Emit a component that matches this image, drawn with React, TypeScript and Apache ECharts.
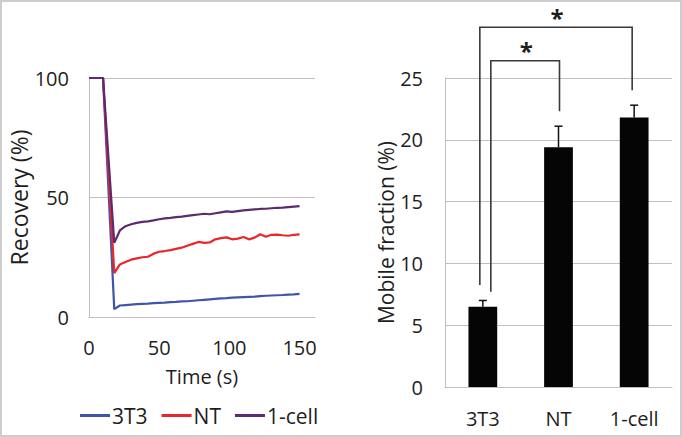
import React, { useEffect, useRef } from "react";
import * as echarts from "echarts";

// ---- Left chart: FRAP recovery curves ----
const times = [0, 5, 10, 18, 22, 26, 30, 34, 38, 42, 46, 50, 54, 58, 62, 66, 70, 74, 78, 82, 86, 90, 94, 98, 102, 106, 110, 114, 118, 122, 126, 130, 134, 138, 142, 146, 150];
const rec3T3 = [100, 100, 100, 3.3, 4.8, 5.0, 5.2, 5.4, 5.5, 5.6, 5.8, 5.9, 6.0, 6.2, 6.3, 6.5, 6.6, 6.8, 7.0, 7.2, 7.4, 7.6, 7.8, 7.9, 8.1, 8.2, 8.3, 8.4, 8.5, 8.7, 8.9, 9.0, 9.1, 9.2, 9.4, 9.5, 9.7];
const recNT = [100, 100, 100, 18.4, 22.0, 23.0, 24.0, 24.5, 25.0, 25.2, 26.5, 27.3, 27.6, 28.0, 28.5, 29.0, 29.8, 30.6, 31.4, 31.0, 31.2, 32.5, 33.0, 33.3, 32.5, 32.8, 33.5, 32.5, 33.2, 34.6, 33.6, 34.4, 34.5, 34.2, 34.0, 34.4, 34.6];
const rec1cell = [100, 100, 100, 31.0, 36.2, 38.0, 38.8, 39.4, 39.8, 40.0, 40.4, 40.9, 41.3, 41.5, 41.8, 42.0, 42.3, 42.6, 42.9, 43.2, 43.0, 43.4, 43.8, 44.2, 44.0, 44.3, 44.6, 44.8, 45.0, 45.2, 45.3, 45.5, 45.7, 45.8, 46.0, 46.2, 46.4];
const seriesNames = ["3T3", "NT", "1-cell"];

// ---- Right chart: mobile fraction ----
const groups = ["3T3", "NT", "1-cell"];
const mobileFraction = [6.5, 19.4, 21.8];
const mobileError = [0.5, 1.7, 1.0];
// significance brackets: [fromIndex, toIndex, leftBottomY, rightBottomY, topY]
const brackets = [
  [0, 2, 8.25, 24.0, 29.1],
  [0, 1, 7.7, 22.3, 26.4],
];
const bracketLabels = ["*", "*"];

// styling offsets (pixels) for bracket ends
const BRACKET_DX = [
  [-3, -2],
  [8, 1],
];

const FONT = "'Open Sans', 'Liberation Sans', sans-serif";
const TXT = "#1e1e1e";
const GRID = "#bfbfbf";
const COLORS = ["#3f55aa", "#e8262b", "#5c2a72"];
const FS = 20;

export default function App() {
  const ref = useRef<HTMLDivElement>(null);
  useEffect(() => {
    if (!ref.current) return;
    const chart = echarts.init(ref.current, undefined, { renderer: "svg" });
    const lineData = [rec3T3, recNT, rec1cell];
    const option: any = {
      animation: false,
      backgroundColor: "#ffffff",
      textStyle: { fontFamily: FONT, color: TXT },
      legend: {
        left: 80,
        top: 405,
        padding: 0,
        itemWidth: 30,
        itemHeight: 3,
        itemGap: 14,
        icon: "rect",
        data: seriesNames,
        textStyle: { fontFamily: FONT, fontSize: 21, color: TXT, padding: [0, 0, 0, -3] },
      },
      grid: [
        { left: 89, top: 78, width: 226, height: 239 },
        { left: 445, top: 78, width: 227, height: 309 },
      ],
      xAxis: [
        {
          gridIndex: 0,
          type: "value",
          min: 0,
          max: 161,
          interval: 50,
          name: "Time (s)",
          nameLocation: "middle",
          nameGap: 49,
          nameTextStyle: { fontFamily: FONT, fontSize: FS, color: TXT },
          axisLine: { show: true, lineStyle: { color: GRID, width: 1 } },
          axisTick: { show: false },
          splitLine: { show: false },
          axisLabel: { fontFamily: FONT, fontSize: FS, color: TXT, margin: 20, showMaxLabel: false },
        },
        {
          gridIndex: 1,
          type: "category",
          data: groups,
          axisLine: { show: true, lineStyle: { color: GRID, width: 1 } },
          axisTick: { show: false },
          axisLabel: { fontFamily: FONT, fontSize: FS, color: TXT, margin: 21 },
        },
      ],
      yAxis: [
        {
          gridIndex: 0,
          type: "value",
          min: 0,
          max: 100,
          interval: 50,
          name: "Recovery (%)",
          nameLocation: "middle",
          nameGap: 58,
          nameTextStyle: { fontFamily: FONT, fontSize: 23, color: TXT },
          axisLine: { show: true, lineStyle: { color: GRID, width: 1 } },
          axisTick: { show: false },
          splitLine: { show: true, lineStyle: { color: GRID, width: 1 } },
          axisLabel: { fontFamily: FONT, fontSize: FS, color: TXT, margin: 20 },
        },
        {
          gridIndex: 1,
          type: "value",
          min: 0,
          max: 25,
          interval: 5,
          name: "Mobile fraction (%)",
          nameLocation: "middle",
          nameGap: 48,
          nameTextStyle: { fontFamily: FONT, fontSize: 21, color: TXT },
          axisLine: { show: true, lineStyle: { color: GRID, width: 1 } },
          axisTick: { show: false },
          splitLine: { show: true, lineStyle: { color: GRID, width: 1 } },
          axisLabel: { fontFamily: FONT, fontSize: FS, color: TXT, margin: 22 },
        },
      ],
      series: [
        ...seriesNames.map((name, k) => ({
          name,
          type: "line",
          xAxisIndex: 0,
          yAxisIndex: 0,
          data: times.map((t, i) => [t, lineData[k][i]]),
          symbol: "none",
          color: COLORS[k],
          lineStyle: { width: 2.2, color: COLORS[k] },
          z: 2 + k,
        })),
        {
          name: "Mobile fraction",
          type: "bar",
          xAxisIndex: 1,
          yAxisIndex: 1,
          data: mobileFraction,
          barWidth: "38%",
          itemStyle: { color: "#050505" },
        },
        {
          name: "error",
          type: "custom",
          xAxisIndex: 1,
          yAxisIndex: 1,
          clip: false,
          z: 5,
          data: mobileFraction.map((v, i) => [i, v, mobileError[i]]),
          renderItem: (params: any, api: any) => {
            const i = api.value(0);
            const v = api.value(1);
            const e = api.value(2);
            const p0 = api.coord([i, v]);
            const p1 = api.coord([i, v + e]);
            return {
              type: "group",
              children: [
                { type: "line", shape: { x1: p0[0], y1: p0[1], x2: p1[0], y2: p1[1] }, style: { stroke: "#111", lineWidth: 1.5 } },
                { type: "line", shape: { x1: p1[0] - 4, y1: p1[1], x2: p1[0] + 4, y2: p1[1] }, style: { stroke: "#111", lineWidth: 1.5 } },
              ],
            };
          },
        },
        {
          name: "brackets",
          type: "custom",
          xAxisIndex: 1,
          yAxisIndex: 1,
          clip: false,
          z: 6,
          data: brackets,
          renderItem: (params: any, api: any) => {
            const idx = params.dataIndex;
            const a = api.value(0);
            const b = api.value(1);
            const pl = api.coord([a, api.value(2)]);
            const pr = api.coord([b, api.value(3)]);
            const pt = api.coord([a, api.value(4)]);
            const xl = pl[0] + BRACKET_DX[idx][0];
            const xr = pr[0] + BRACKET_DX[idx][1];
            const yt = pt[1];
            return {
              type: "group",
              children: [
                {
                  type: "polyline",
                  shape: { points: [[xl, pl[1]], [xl, yt], [xr, yt], [xr, pr[1]]] },
                  style: { stroke: "#3a3a3a", lineWidth: 1.6, fill: "none" },
                },
                {
                  type: "text",
                  style: {
                    text: bracketLabels[idx],
                    x: (xl + xr) / 2 + 1,
                    y: yt - 10,
                    align: "center",
                    verticalAlign: "middle",
                    fontSize: 24,
                    fontWeight: "bold",
                    fontFamily: FONT,
                    fill: "#1e1e1e",
                  },
                },
              ],
            };
          },
        },
      ],
    };
    chart.setOption(option);
    return () => chart.dispose();
  }, []);
  return (
    <div style={{ position: "absolute", left: 0, top: 0, width: 682, height: 437 }}>
      <div ref={ref} style={{ position: "absolute", left: 0, top: 0, width: 682, height: 437 }} />
      <div
        style={{
          position: "absolute",
          left: 0,
          top: 0,
          width: 682,
          height: 437,
          boxSizing: "border-box",
          border: "2px solid #cdcdcd",
          pointerEvents: "none",
        }}
      />
    </div>
  );
}
